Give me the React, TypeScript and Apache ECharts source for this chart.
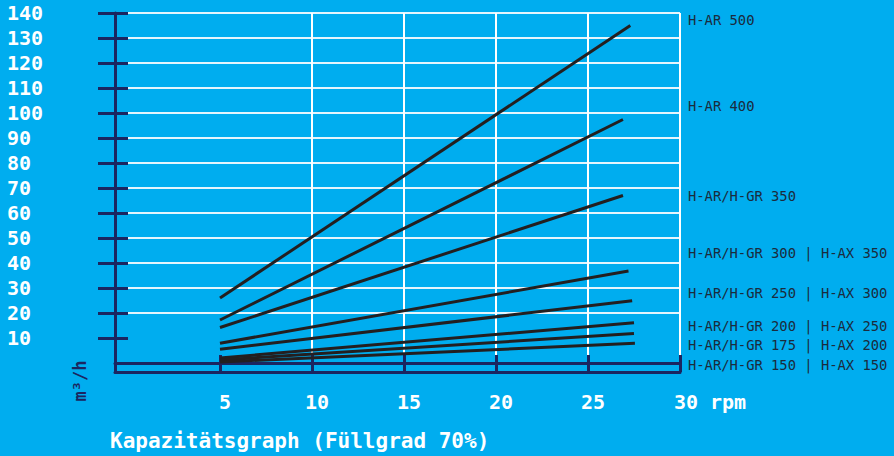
import React, { useEffect, useRef } from "react";
import * as echarts from "echarts";

const xTicks = [5, 10, 15, 20, 25, 30];
const yTicks = [10, 20, 30, 40, 50, 60, 70, 80, 90, 100, 110, 120, 130, 140];

const seriesNames = [
  "H-AR 500",
  "H-AR 400",
  "H-AR/H-GR 350",
  "H-AR/H-GR 300 | H-AX 350",
  "H-AR/H-GR 250 | H-AX 300",
  "H-AR/H-GR 200 | H-AX 250",
  "H-AR/H-GR 175 | H-AX 200",
  "H-AR/H-GR 150 | H-AX 150",
];

const s500 = [[5, 26], [27.3, 135]];
const s400 = [[5, 17.2], [26.9, 97.4]];
const s350 = [[5, 14.2], [26.9, 67]];
const s300 = [[5, 7.9], [27.2, 36.8]];
const s250 = [[5, 5.5], [27.4, 24.9]];
const s200 = [[5, 2.0], [27.5, 16.1]];
const s175 = [[5, 1.2], [27.5, 11.8]];
const s150 = [[5, 0.4], [27.55, 7.9]];

const seriesData = [s500, s400, s350, s300, s250, s200, s175, s150];

// label layout (pixel y centres of the right-hand legend texts)
const labelY = [20, 106, 196, 253, 293, 326, 345, 365];

const NAVY = "#1b2560";
const BG = "#00adef";
const FONT = "DejaVu Sans Mono";

export default function App() {
  const ref = useRef<HTMLDivElement>(null);
  useEffect(() => {
    document.body.style.margin = "0";
    const chart = echarts.init(ref.current!, null, { renderer: "svg" });
    const option: any = {
      animation: false,
      backgroundColor: BG,
      title: {
        text: "Kapazitätsgraph (Füllgrad 70%)",
        left: 105,
        top: 425,
        textStyle: { color: "#ffffff", fontFamily: FONT, fontWeight: "bold", fontSize: 21 },
      },
      grid: [
        { left: 128, right: 214, top: 13, bottom: 93 },
        { left: 115, right: 214, top: 13, bottom: 84 },
      ],
      xAxis: [
        {
          gridIndex: 0,
          type: "value",
          position: "bottom",
          min: 0,
          max: 30,
          interval: 5,
          offset: 9,
          axisLine: { show: false, onZero: false },
          axisTick: {
            show: true,
            inside: true,
            length: 17,
            customValues: xTicks,
            lineStyle: { color: NAVY, width: 3 },
          },
          axisLabel: {
            customValues: xTicks,
            margin: 20,
            color: "#ffffff",
            fontFamily: FONT,
            fontWeight: "bold",
            fontSize: 20,
            padding: [0, 0, 0, 10],
            formatter: (v: number) => (v === 0 ? "" : v === 30 ? "{r|30 rpm}" : String(v)),
            rich: {
              r: {
                color: "#ffffff",
                fontFamily: FONT,
                fontWeight: "bold",
                fontSize: 20,
                padding: [0, 0, 0, 50],
              },
            },
          },
          splitLine: { show: true, showMinLine: false, lineStyle: { color: "#ffffff", width: 2 } },
        },
        {
          gridIndex: 1,
          type: "value",
          position: "bottom",
          min: 0,
          max: 1,
          axisLine: { show: true, onZero: false, lineStyle: { color: NAVY, width: 3 } },
          axisTick: { show: false },
          axisLabel: { show: false },
          splitLine: { show: false },
        },
        {
          gridIndex: 1,
          type: "value",
          position: "bottom",
          offset: -9,
          min: 0,
          max: 1,
          axisLine: { show: true, onZero: false, lineStyle: { color: NAVY, width: 3 } },
          axisTick: { show: false },
          axisLabel: { show: false },
          splitLine: { show: false },
        },
      ],
      yAxis: [
        {
          gridIndex: 0,
          type: "value",
          position: "left",
          min: 0,
          max: 140,
          interval: 10,
          offset: 13,
          axisLine: { show: false, onZero: false },
          axisTick: {
            show: true,
            length: 17,
            customValues: yTicks,
            lineStyle: { color: NAVY, width: 3 },
          },
          axisLabel: {
            customValues: yTicks,
            align: "left",
            margin: 108,
            color: "#ffffff",
            fontFamily: FONT,
            fontWeight: "bold",
            fontSize: 20,
            formatter: (v: number) => (v === 0 ? "" : String(v)),
          },
          splitLine: { show: true, showMinLine: false, lineStyle: { color: "#e4f5fd", width: 2 } },
        },
        {
          gridIndex: 0,
          type: "value",
          position: "left",
          min: 0,
          max: 140,
          interval: 10,
          offset: 13,
          axisLine: { show: false, onZero: false },
          axisTick: {
            show: true,
            inside: true,
            length: 13,
            customValues: yTicks,
            lineStyle: { color: NAVY, width: 3 },
          },
          axisLabel: { show: false },
          splitLine: { show: false },
        },
        {
          gridIndex: 1,
          type: "value",
          position: "left",
          min: 0,
          max: 1,
          axisLine: { show: true, onZero: false, lineStyle: { color: NAVY, width: 3 } },
          axisTick: { show: false },
          axisLabel: { show: false },
          splitLine: { show: false },
        },
      ],
      series: seriesData.map((d, i) => ({
        name: seriesNames[i],
        type: "line",
        xAxisIndex: 0,
        yAxisIndex: 0,
        data: d,
        symbol: "none",
        z: 5,
        lineStyle: { color: "#231f20", width: 3 },
      })),
      graphic: [
        ...seriesNames.map((n, i) => ({
          type: "text",
          x: 688,
          y: labelY[i],
          style: {
            text: n,
            fill: "#1b2b3d",
            font: `13.8px "${FONT}"`,
            verticalAlign: "middle",
            align: "left",
          },
        })),
        {
          type: "text",
          x: 80,
          y: 381,
          rotation: Math.PI / 2,
          style: {
            text: "m³/h",
            fill: NAVY,
            font: `bold 17px "${FONT}"`,
            align: "center",
            verticalAlign: "middle",
          },
        },
      ],
    };
    chart.setOption(option);
    return () => chart.dispose();
  }, []);
  return (
    <div
      ref={ref}
      style={{ position: "fixed", left: 0, top: 0, width: 894, height: 456 }}
    />
  );
}
